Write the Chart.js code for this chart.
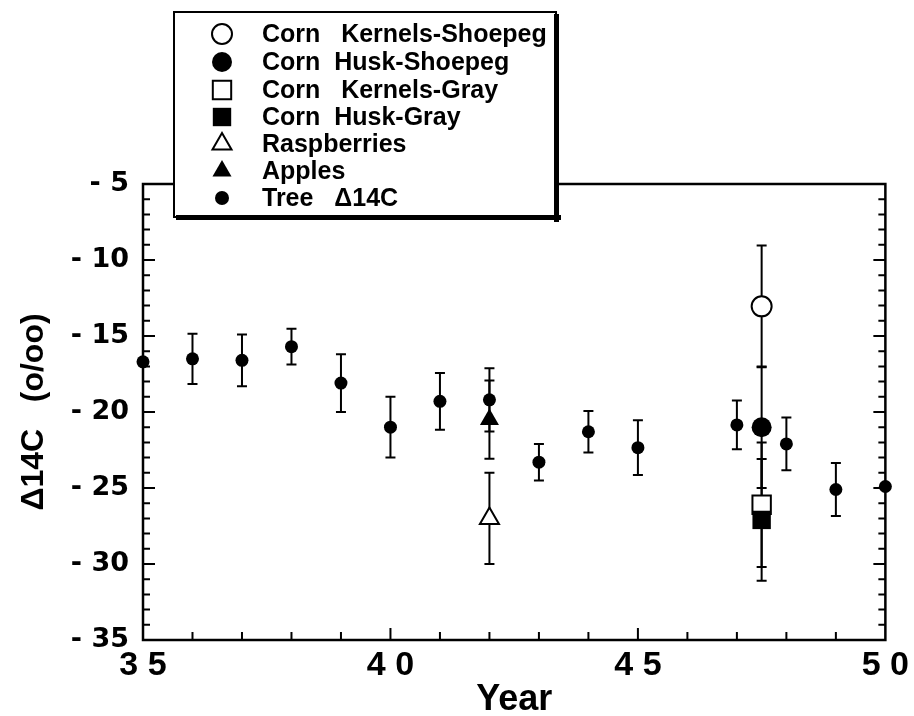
<!DOCTYPE html>
<html>
<head>
<meta charset="utf-8">
<script src="https://cdn.jsdelivr.net/npm/chart.js@4/dist/chart.umd.min.js"></script>
<style>
  html, body { margin: 0; padding: 0; background: #fff; }
</style>
</head>
<body>
<canvas id="myChart" width="914" height="716"></canvas>
<script>
// tree ring values
const treeYears = [35, 36, 37, 38, 39, 40, 41, 42, 43, 44, 45, 47, 48, 49, 50];
const treeD14C = [-16.7, -16.5, -16.6, -15.7, -18.1, -21.0, -19.3, -19.2, -23.3, -21.3, -22.35, -20.85, -22.1, -25.1, -24.9];
const treeErr = [0, 1.65, 1.7, 1.17, 1.9, 2.0, 1.87, 2.08, 1.2, 1.37, 1.8, 1.6, 1.73, 1.75, 0];

// crop samples
const cornYear = [47.5];
const kernelsShoepeg = [-13.05];
const kernelsShoepegErr = [4.0];
const huskShoepeg = [-21.0];
const huskShoepegErr = [4.0];
const kernelsGray = [-26.1];
const kernelsGrayErr = [4.1];
const huskGray = [-27.1];
const huskGrayErr = [4.0];

const fruitYear = [42];
const raspberries = [-27.0];
const raspberriesErr = [3.0];
const apples = [-20.5];
const applesErr = [2.57];

const xTicks = [35, 40, 45, 50];
const yTicks = [-35, -30, -25, -20, -15, -10, -5];

function pts(xs, ys) {
    var out = [];
    for (var i = 0; i < ys.length; i++) {
        out.push({ x: xs[i], y: ys[i] });
    }
    return out;
}

function series(label, xs, ys, err, style, radius, filled, order) {
    return {
        label: label,
        data: pts(xs, ys),
        err: err,
        pointStyle: style,
        pointRadius: radius,
        pointHoverRadius: radius,
        backgroundColor: filled ? "#000" : "#fff",
        borderColor: "#000",
        borderWidth: filled ? 0 : 2,
        showLine: false,
        clip: false,
        order: order,
        legendRadius: radius
    };
}

const datasets = [
    series("Corn   Kernels-Shoepeg", cornYear, kernelsShoepeg, kernelsShoepegErr, "circle", 10, false, 1),
    series("Corn  Husk-Shoepeg", cornYear, huskShoepeg, huskShoepegErr, "circle", 10, true, 2),
    series("Corn   Kernels-Gray", cornYear, kernelsGray, kernelsGrayErr, "rect", 13, false, 4),
    series("Corn  Husk-Gray", cornYear, huskGray, huskGrayErr, "rect", 13, true, 3),
    series("Raspberries", fruitYear, raspberries, raspberriesErr, "triangle", 11, false, 5),
    series("Apples", fruitYear, apples, applesErr, "triangle", 11, true, 6),
    series("Tree   \u039414C", treeYears, treeD14C, treeErr, "circle", 6.5, true, 7)
];

const framePlugin = {
    id: "frame",
    beforeDatasetsDraw(chart) {
        const ctx = chart.ctx;
        const a = chart.chartArea;
        const xs = chart.scales.x;
        const ys = chart.scales.y;
        ctx.save();
        ctx.strokeStyle = "#000";

        // error bars
        ctx.lineWidth = 2;
        chart.data.datasets.forEach(function (ds) {
            ds.data.forEach(function (p, i) {
                const e = ds.err[i];
                if (!e) return;
                const px = xs.getPixelForValue(p.x);
                const top = ys.getPixelForValue(p.y + e);
                const bot = ys.getPixelForValue(p.y - e);
                ctx.beginPath();
                ctx.moveTo(px, top);
                ctx.lineTo(px, bot);
                ctx.moveTo(px - 5, top);
                ctx.lineTo(px + 5, top);
                ctx.moveTo(px - 5, bot);
                ctx.lineTo(px + 5, bot);
                ctx.stroke();
            });
        });

        // inward ticks
        ctx.lineWidth = 2;
        ctx.beginPath();
        for (var v = -34; v <= -6; v++) {
            const py = ys.getPixelForValue(v);
            const len = v % 5 === 0 ? 12 : 7;
            ctx.moveTo(a.left, py);
            ctx.lineTo(a.left + len, py);
            ctx.moveTo(a.right, py);
            ctx.lineTo(a.right - len, py);
        }
        for (var yr = 36; yr <= 49; yr++) {
            const px = xs.getPixelForValue(yr);
            const len = yr % 5 === 0 ? 12 : 8;
            ctx.moveTo(px, a.bottom);
            ctx.lineTo(px, a.bottom - len);
        }
        ctx.stroke();

        // frame
        ctx.lineWidth = 2.5;
        ctx.strokeRect(a.left, a.top, a.right - a.left, a.bottom - a.top);
        ctx.restore();
    }
};

const legendPlugin = {
    id: "boxLegend",
    afterDraw(chart) {
        const ctx = chart.ctx;
        const left = 174, top = 12, right = 556, bottom = 217;
        ctx.save();
        ctx.fillStyle = "#fff";
        ctx.fillRect(left, top, right - left, bottom - top);
        ctx.strokeStyle = "#000";
        ctx.lineWidth = 2;
        ctx.strokeRect(left, top, right - left, bottom - top);
        ctx.fillStyle = "#000";
        ctx.fillRect(right - 2, top + 2, 5, bottom - top + 3);
        ctx.fillRect(left + 2, bottom - 2, right - left + 3, 5);

        const rowY = [34, 62, 90, 117, 144, 171, 198];
        ctx.font = "bold 25px 'Liberation Sans', Arial, sans-serif";
        ctx.textBaseline = "middle";
        ctx.textAlign = "left";
        chart.data.datasets.forEach(function (ds, i) {
            ctx.fillStyle = ds.backgroundColor;
            ctx.strokeStyle = "#000";
            ctx.lineWidth = ds.borderWidth;
            Chart.helpers.drawPoint(ctx, {
                pointStyle: ds.pointStyle,
                radius: i === 6 ? 7 : ds.legendRadius,
                rotation: 0,
                borderWidth: ds.borderWidth
            }, 222, rowY[i]);
            ctx.fillStyle = "#000";
            ctx.fillText(ds.label, 262, rowY[i] + 1);
        });
        ctx.restore();
    }
};

const config = {
    type: "scatter",
    data: { datasets: datasets },
    options: {
        responsive: false,
        animation: false,
        layout: { padding: { left: 0, top: 184, right: 26, bottom: 0 } },
        plugins: {
            legend: { display: false },
            tooltip: { enabled: false }
        },
        scales: {
            x: {
                type: "linear",
                min: 35,
                max: 50,
                afterBuildTicks: function (s) {
                    s.ticks = xTicks.map(function (v) { return { value: v }; });
                },
                afterFit: function (s) { s.height = 76; },
                grid: { display: false, drawTicks: false },
                border: { display: false },
                ticks: {
                    color: "#000",
                    padding: 5,
                    font: { family: "'Liberation Sans', Arial, sans-serif", size: 34, weight: "bold" },
                    callback: function (v) { return String(v).split("").join(" "); }
                },
                title: {
                    display: true,
                    text: "Year",
                    color: "#000",
                    padding: { top: 0, bottom: -2 },
                    font: { family: "'Liberation Sans', Arial, sans-serif", size: 36, weight: "bold", lineHeight: 1 }
                }
            },
            y: {
                type: "linear",
                min: -35,
                max: -5,
                afterBuildTicks: function (s) {
                    s.ticks = yTicks.map(function (v) { return { value: v }; });
                },
                afterFit: function (s) { s.width = 143; },
                grid: { display: false, drawTicks: false },
                border: { display: false },
                ticks: {
                    color: "#000",
                    padding: 14,
                    font: { family: "'DejaVu Sans', sans-serif", size: 27, weight: "bold" },
                    callback: function (v) { return v < 0 ? "- " + Math.abs(v) : String(v); }
                },
                title: {
                    display: true,
                    text: "\u039414C   (o/oo)",
                    color: "#000",
                    padding: { top: 15, bottom: 0 },
                    font: { family: "'Liberation Sans', Arial, sans-serif", size: 32, weight: "bold" }
                }
            }
        }
    },
    plugins: [framePlugin, legendPlugin]
};

new Chart(document.getElementById("myChart"), config);
</script>
</body>
</html>
